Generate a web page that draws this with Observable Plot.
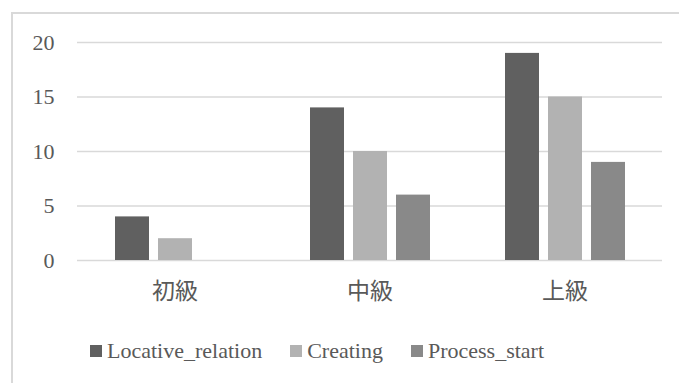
<!DOCTYPE html>
<html>
<head>
<meta charset="utf-8">
<script src="https://cdn.jsdelivr.net/npm/d3@7"></script>
<script src="https://cdn.jsdelivr.net/npm/@observablehq/plot@0.6"></script>
<style>
  html, body { margin: 0; padding: 0; background: #fff; }
  #wrap { position: relative; width: 679px; height: 383px; overflow: hidden; }
  #frame { position: absolute; left: 11px; top: 12px; width: 700px; height: 400px;
           border: 2px solid #d9d9d9; box-sizing: border-box; }
  #chart { position: absolute; left: 0; top: 0; }
  #legend { position: absolute; left: 90px; top: 338px; display: flex; align-items: center;
            font-family: "Liberation Serif", "Times New Roman", Tinos, "DejaVu Serif", serif;
            font-size: 22px; color: #595959; }
  .item { display: flex; align-items: center; margin-right: 28px; }
  .sw { width: 12px; height: 12px; margin-right: 5px; }
</style>
</head>
<body>
<div id="wrap">
  <div id="frame"></div>
  <div id="chart"></div>
  <div id="legend"></div>
</div>
<script>
// Levels, series and their counts
const categories = ["初級", "中級", "上級"];
const series = ["Locative_relation", "Creating", "Process_start"];
const locativeRelation = [4, 14, 19];
const creating = [2, 10, 15];
const processStart = [0, 6, 9];
const seriesColors = ["#606060", "#b2b2b2", "#898989"];
const yTicks = [0, 5, 10, 15, 20];

const valuesBySeries = [locativeRelation, creating, processStart];
const rows = [];
categories.forEach((c, i) => {
  series.forEach((s, j) => rows.push({level: c, series: s, value: valuesBySeries[j][i]}));
});

const serif = '"Liberation Serif", "Times New Roman", Tinos, "DejaVu Serif", serif';

const chart = Plot.plot({
  width: 679,
  height: 320,
  marginTop: 42,
  marginBottom: 60,
  marginLeft: 76,
  marginRight: 16,
  style: {fontFamily: serif, color: "#595959", background: "transparent"},
  fx: {domain: categories, paddingInner: 0, paddingOuter: 0, label: null, axis: null},
  x: {domain: series, paddingInner: 0.215, paddingOuter: 0.867, axis: null},
  y: {domain: [0, 20], ticks: yTicks, label: null, axis: null},
  color: {domain: series, range: seriesColors},
  marks: [
    Plot.ruleY(yTicks, {stroke: "#d9d9d9", strokeWidth: 1.5, strokeOpacity: 1}),
    Plot.barY(rows, {fx: "level", x: "series", y: "value", fill: "series"}),
    Plot.axisY({ticks: yTicks, tickSize: 0, tickPadding: 23, fontSize: 22, label: null,
                fontFamily: serif}),
    Plot.axisFx({anchor: "bottom", tickSize: 0, tickPadding: 22, fontSize: 23, label: null,
                 fontFamily: '"Noto Sans CJK JP", sans-serif'})
  ]
});
document.getElementById("chart").appendChild(chart);

// Legend
const legend = document.getElementById("legend");
series.forEach((s, j) => {
  const item = document.createElement("div");
  item.className = "item";
  const sw = document.createElement("span");
  sw.className = "sw";
  sw.style.background = seriesColors[j];
  const label = document.createElement("span");
  label.textContent = s;
  item.appendChild(sw);
  item.appendChild(label);
  legend.appendChild(item);
});
</script>
</body>
</html>
